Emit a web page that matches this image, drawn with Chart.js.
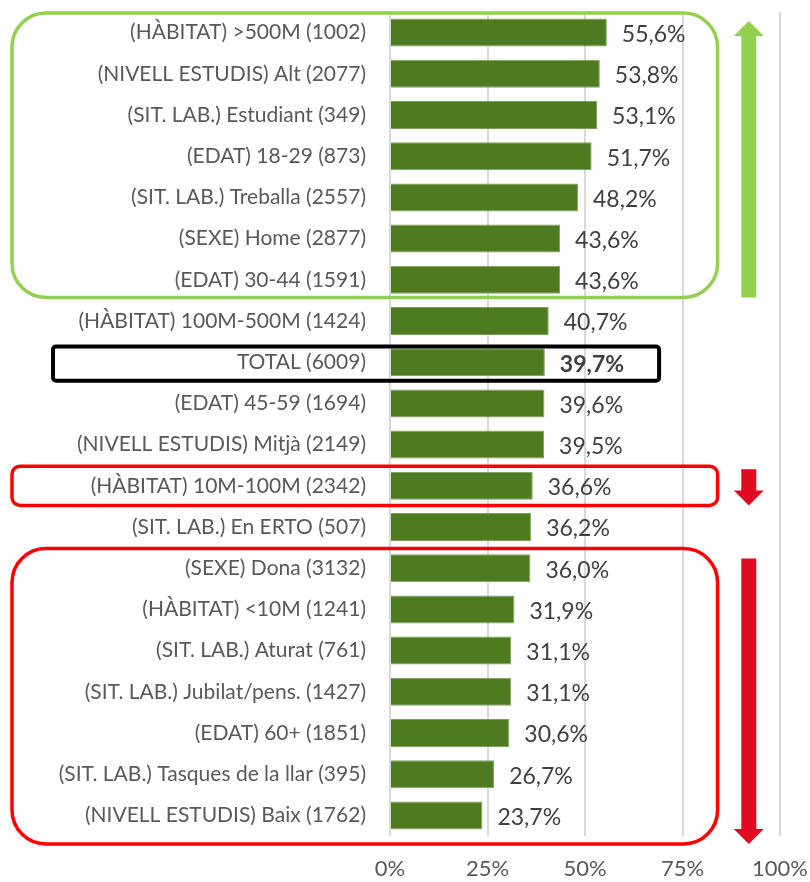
<!DOCTYPE html>
<html>
<head>
<meta charset="utf-8">
<script src="https://cdn.jsdelivr.net/npm/chart.js@4"></script>
<style>
  html, body { margin: 0; padding: 0; background: #fff; }
  #wrap { width: 810px; height: 882px; }
</style>
</head>
<body>
<div id="wrap"><canvas id="chart"></canvas></div>
<script>
// Dades

let categories = [
  "(HÀBITAT) >500M (1002)",
  "(NIVELL ESTUDIS) Alt (2077)",
  "(SIT. LAB.) Estudiant (349)",
  "(EDAT) 18-29 (873)",
  "(SIT. LAB.) Treballa (2557)",
  "(SEXE) Home (2877)",
  "(EDAT) 30-44 (1591)",
  "(HÀBITAT) 100M-500M (1424)",
  "TOTAL (6009)",
  "(EDAT) 45-59 (1694)",
  "(NIVELL ESTUDIS) Mitjà (2149)",
  "(HÀBITAT) 10M-100M (2342)",
  "(SIT. LAB.) En ERTO (507)",
  "(SEXE) Dona (3132)",
  "(HÀBITAT) <10M (1241)",
  "(SIT. LAB.) Aturat (761)",
  "(SIT. LAB.) Jubilat/pens. (1427)",
  "(EDAT) 60+ (1851)",
  "(SIT. LAB.) Tasques de la llar (395)",
  "(NIVELL ESTUDIS) Baix (1762)",
];

let values = [
  55.6, 53.8, 53.1, 51.7, 48.2, 43.6, 43.6, 40.7, 39.7, 39.6,
  39.5, 36.6, 36.2, 36.0, 31.9, 31.1, 31.1, 30.6, 26.7, 23.7,
];

let xTicks = [0, 25, 50, 75, 100];

let totalIndex = categories.indexOf("TOTAL (6009)");

// Grups destacats (files inicial i final)
let groups = [
  { from: 0, to: 6, color: "#92d050", arrow: "up" },
  { from: totalIndex, to: totalIndex, color: "#000000", arrow: null },
  { from: 11, to: 11, color: "#ff0000", arrow: "down" },
  { from: 13, to: 19, color: "#ff0000", arrow: "down" },
];

const FONT = "Lato, 'Open Sans', sans-serif";

function fmt(v) {
  return v.toFixed(1).replace(".", ",") + "%";
}

// Etiquetes de valor

const valueLabels = {
  id: "valueLabels",
  afterDatasetsDraw(chart) {
    let ctx = chart.ctx;
    let meta = chart.getDatasetMeta(0);
    ctx.save();
    ctx.fillStyle = "#404040";
    ctx.textBaseline = "middle";
    ctx.textAlign = "left";
    meta.data.forEach((bar, i) => {
      ctx.font = (i === totalIndex ? "bold " : "") + "23px " + FONT;
      ctx.fillText(fmt(values[i]), bar.x + 15, bar.y + 2);
    });
    ctx.restore();
  },
};

function roundRect(ctx, x, y, w, h, r) {
  ctx.beginPath();
  ctx.moveTo(x + r, y);
  ctx.arcTo(x + w, y, x + w, y + h, r);
  ctx.arcTo(x + w, y + h, x, y + h, r);
  ctx.arcTo(x, y + h, x, y, r);
  ctx.arcTo(x, y, x + w, y, r);
  ctx.closePath();
}

function arrow(ctx, cx, top, bottom, dir, color) {
  let shaft = 15;
  let head = 30;
  let headH = 15;
  ctx.fillStyle = color;
  ctx.beginPath();
  if (dir === "up") {
    ctx.moveTo(cx, top);
    ctx.lineTo(cx + head / 2, top + headH);
    ctx.lineTo(cx + shaft / 2, top + headH);
    ctx.lineTo(cx + shaft / 2, bottom);
    ctx.lineTo(cx - shaft / 2, bottom);
    ctx.lineTo(cx - shaft / 2, top + headH);
    ctx.lineTo(cx - head / 2, top + headH);
  } else {
    ctx.moveTo(cx, bottom);
    ctx.lineTo(cx + head / 2, bottom - headH);
    ctx.lineTo(cx + shaft / 2, bottom - headH);
    ctx.lineTo(cx + shaft / 2, top);
    ctx.lineTo(cx - shaft / 2, top);
    ctx.lineTo(cx - shaft / 2, bottom - headH);
    ctx.lineTo(cx - head / 2, bottom - headH);
  }
  ctx.closePath();
  ctx.fill();
}

// Marcs i fletxes

const highlights = {
  id: "highlights",
  afterDraw(chart) {
    let ctx = chart.ctx;
    let y = chart.scales.y;
    let x = chart.scales.x;
    let step = y.getPixelForValue(1) - y.getPixelForValue(0);
    let arrowX = x.getPixelForValue(92);
    let right = x.getPixelForValue(84);
    ctx.save();
    groups.forEach((g) => {
      let top = y.getPixelForValue(g.from) - step / 2;
      let bottom = y.getPixelForValue(g.to) + step / 2;
      if (g.arrow === null) {
        ctx.strokeStyle = g.color;
        ctx.lineWidth = 4;
        roundRect(ctx, 53, top + 5, x.getPixelForValue(69) - 53, step - 7, 3);
        ctx.stroke();
        return;
      }
      let multi = g.to > g.from;
      let r = multi ? 34 : 8;
      let t = top + 1;
      let b = bottom - 1;
      if (multi && g.arrow === "down") b = bottom + 8;
      if (multi && g.arrow === "up") b = bottom - 3;
      ctx.strokeStyle = g.color;
      ctx.lineWidth = 3.5;
      roundRect(ctx, 12, t, right - 12, b - t, r);
      ctx.stroke();
      let arrowColor = g.arrow === "up" ? "#92d050" : "#e20a1f";
      if (multi) {
        arrow(ctx, arrowX, t + (g.arrow === "up" ? 8 : 10), b, g.arrow, arrowColor);
      } else {
        arrow(ctx, arrowX, t + 3, b, g.arrow, arrowColor);
      }
    });
    ctx.restore();
  },
};

new Chart(document.getElementById("chart"), {
  type: "bar",
  data: {
    labels: categories,
    datasets: [
      {
        data: values,
        backgroundColor: "#4e7a20",
        borderColor: "#7fa05c",
        borderWidth: 1,
        barPercentage: 0.68,
        categoryPercentage: 1,
      },
    ],
  },
  options: {
    indexAxis: "y",
    responsive: true,
    maintainAspectRatio: false,
    animation: false,
    layout: { autoPadding: false, padding: { top: 12, right: 30, left: 0, bottom: 0 } },
    plugins: {
      legend: { display: false },
      tooltip: { enabled: false },
    },
    scales: {
      x: {
        min: 0,
        max: 100,
        afterBuildTicks(scale) {
          scale.ticks = xTicks.map((v) => ({ value: v }));
        },
        afterFit(scale) {
          scale.height = 46;
          scale.paddingLeft = 0;
          scale.paddingRight = 0;
        },
        ticks: {
          color: "#595959",
          font: { family: FONT, size: 22 },
          padding: 20,
          maxRotation: 0,
          callback: (v) => v + "%",
        },
        grid: { color: "#d9d9d9", lineWidth: 2, drawTicks: false },
        border: { display: false },
      },
      y: {
        afterFit(scale) {
          scale.width = 390;
          scale.paddingTop = 0;
          scale.paddingBottom = 0;
        },
        ticks: {
          color: "#595959",
          font: { family: FONT, size: 21 },
          padding: 16,
        },
        grid: { display: false },
        border: { display: false },
      },
    },
  },
  plugins: [valueLabels, highlights],
});
</script>
</body>
</html>
